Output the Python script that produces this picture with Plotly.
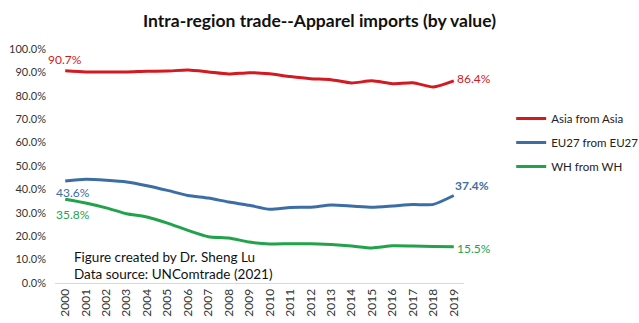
import plotly.graph_objects as go

years = [str(y) for y in range(2000, 2020)]
asia = [90.7, 90.2, 90.2, 90.2, 90.5, 90.6, 91.0, 90.2, 89.3, 89.9, 89.4, 88.2, 87.3, 86.9, 85.5, 86.4, 85.2, 85.6, 83.8, 86.4]
eu27 = [43.6, 44.3, 43.9, 43.2, 41.6, 39.6, 37.4, 36.3, 34.6, 33.2, 31.5, 32.3, 32.4, 33.3, 32.9, 32.4, 32.9, 33.5, 33.6, 37.4]
wh = [35.8, 34.2, 32.1, 29.6, 28.2, 25.6, 22.5, 19.8, 19.2, 17.5, 16.7, 16.8, 16.8, 16.4, 15.8, 15.0, 15.9, 15.8, 15.6, 15.5]
series_names = ["Asia from Asia", "EU27 from EU27", "WH from WH"]
colors = ["#D31A20", "#3B6EA5", "#22A24A"]
yticks = [i / 10 for i in range(0, 11)]
ytick_text = [f"{v*100:.1f}%" for v in yticks]

FONT = "Lato"
fig = go.Figure()
for name, vals, c in zip(series_names, [asia, eu27, wh], colors):
    fig.add_trace(go.Scatter(
        x=years, y=[v / 100 for v in vals], name=name, mode="lines",
        line=dict(color=c, width=3, shape="spline", smoothing=0.6),
        legendgroup=name,
    ))

first, last = 0, len(years) - 1
labels = [
    (first, asia[first], colors[0], 0, 11, "center", False),
    (last, asia[last], colors[0], 1, 2, "left", False),
    (first, eu27[first], colors[1], 8, -12, "center", False),
    (last, eu27[last], colors[1], -1, 10, "left", True),
    (first, wh[first], colors[2], 8, -15, "center", False),
    (last, wh[last], colors[2], 1, -2, "left", False),
]
for x, v, c, xs, ys, anc, bold in labels:
    txt = f"{v:.1f}%"
    if bold:
        txt = f"<b>{txt}</b>"
    fig.add_annotation(x=x, y=v / 100, xref="x", yref="y", text=txt, showarrow=False,
                       xanchor=anc, yanchor="middle", xshift=xs, yshift=ys,
                       font=dict(family=FONT, size=12, color=c))

for txt, yy in [("Figure created by Dr. Sheng Lu", 0.112), ("Data source: UNComtrade (2021)", 0.040)]:
    fig.add_annotation(xref="paper", yref="paper", x=0.042, y=yy, text=txt,
                       showarrow=False, xanchor="left", yanchor="middle", align="left",
                       font=dict(family=FONT, size=13.5, color="#111111"))

fig.update_layout(
    width=639, height=323,
    margin=dict(l=55, r=175, t=49, b=40, autoexpand=False),
    paper_bgcolor="white", plot_bgcolor="white",
    title=dict(text="<b>Intra-region trade--Apparel imports (by value)</b>",
               x=0.5, xref="container", xanchor="center", y=0.935, yanchor="middle",
               font=dict(family=FONT, size=17.5, color="#111111")),
    font=dict(family=FONT, size=11, color="#333333"),
    showlegend=True,
    legend=dict(x=0.80, xref="container", xanchor="left", y=0.678, yref="container", yanchor="top",
                font=dict(family=FONT, size=11.5, color="#222222"),
                tracegroupgap=5, bgcolor="rgba(0,0,0,0)"),
    xaxis=dict(type="category", range=[-0.5, 19.5], showgrid=False,
               showline=True, linecolor="#D9D9D9", linewidth=1,
               ticks="", tickangle=-90, automargin=False,
               tickfont=dict(family=FONT, size=12, color="#333333")),
    yaxis=dict(range=[0, 1.0], tickvals=yticks, ticktext=ytick_text,
               showgrid=False, zeroline=False, showline=False, ticks="",
               ticklabelstandoff=8,
               automargin=False, tickfont=dict(family=FONT, size=11, color="#333333")),
)

fig.write_html("out.html")
